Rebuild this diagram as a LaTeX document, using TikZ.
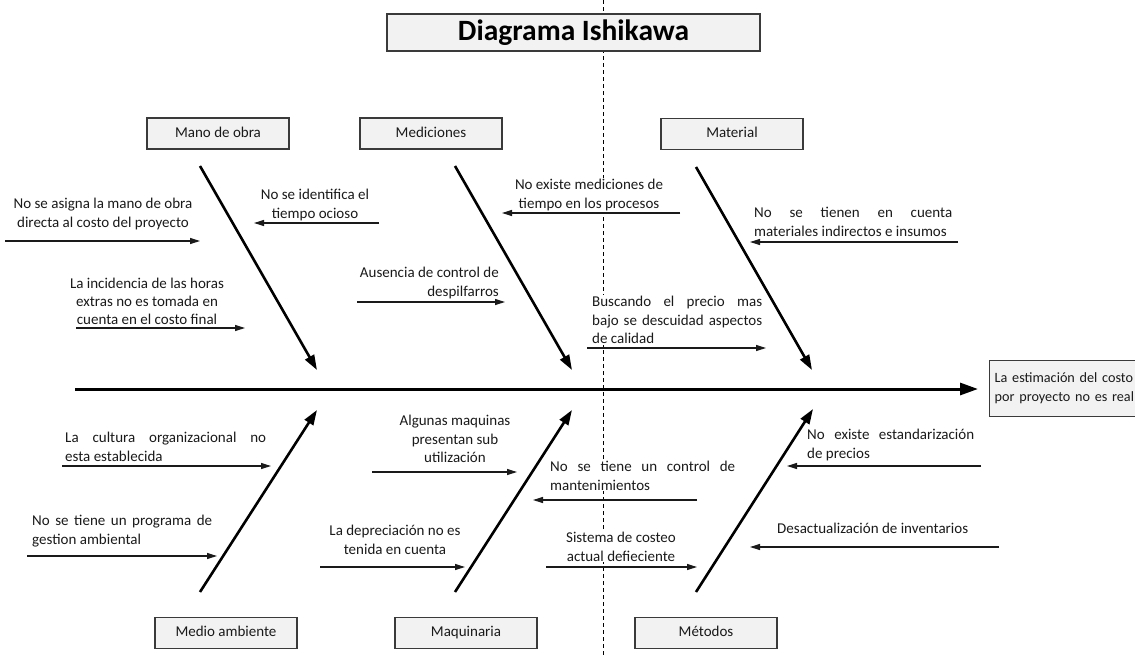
\documentclass[tikz,border=0pt]{standalone}
\usepackage{fontspec}
\setmainfont{Carlito}
\usetikzlibrary{arrows.meta}
\definecolor{boxfill}{HTML}{F2F2F2}
\definecolor{boxline}{HTML}{3A3A3A}
\definecolor{ink}{HTML}{1A1A1A}
\newcommand{\jbr}{\penalty-10000\relax}
\begin{document}
\begin{tikzpicture}[x=1pt,y=-1pt,
  catbox/.style={draw=boxline, fill=boxfill, line width=1.4pt, minimum width=142pt, minimum height=31pt, inner sep=0pt, text height=10.5pt, text depth=3pt, font=\fontsize{15}{18}\selectfont, text=ink},
  titlebox/.style={draw=boxline, fill=boxfill, line width=1.6pt, minimum width=373pt, minimum height=37pt, inner sep=0pt, text height=21pt, text depth=6pt, font=\fontsize{29.5}{33}\selectfont\bfseries, text=black},
  bone/.style={line width=2.6pt, draw=black, -{Triangle[length=15pt,width=10pt]}},
  spine/.style={line width=3pt, draw=black, -{Triangle[length=18pt,width=12pt]}},
  sub/.style={line width=1.2pt, draw=ink, -{Triangle[length=10pt,width=6pt]}},
  lbl/.style={font=\fontsize{15}{18.5}\selectfont, inner sep=1pt, fill=white, text=ink},
  jlbl/.style={lbl, align=justify, anchor=north west},
  clbl/.style={lbl, align=center, anchor=north},
  divider/.style={line width=1pt, draw=black, dash pattern=on 4pt off 3pt},
]
\useasboundingbox (0,0) rectangle (1135,656);

% dashed divider
\coordinate (dtop) at (603,0);
\coordinate (dbot) at (603,656);
\draw[divider] (dtop) -- (dbot);

% labels
\node[clbl] (l1) at (103,197) {No se asigna la mano de obra\\directa al costo del proyecto};
\node[clbl] (l2) at (315,188) {No se identifica el\\tiempo ocioso};
\node[clbl, font=\fontsize{15}{18}\selectfont] (l3) at (147,277) {La incidencia de las horas\\extras no es tomada en\\cuenta en el costo final};
\node[clbl] (l4) at (589,178) {No existe mediciones de\\tiempo en los procesos};
\node[lbl, align=right, anchor=north east] (l5) at (500,266) {Ausencia de control de\\despilfarros};
\node[jlbl, text width=198pt] (l6) at (753,206) {No se tienen en cuenta\jbr{} materiales indirectos e insumos};
\node[jlbl, text width=170pt] (l7) at (591,295) {Buscando el precio mas\jbr{} bajo se descuidad aspectos\jbr{} de calidad};
\node[jlbl, text width=201pt] (l8) at (64,431) {La cultura organizacional no\jbr{} esta establecida};
\node[jlbl, text width=180pt] (l9) at (31,514) {No se tiene un programa de\jbr{} gestion ambiental};
\node[clbl] (l10) at (455,414) {Algunas maquinas\\presentan sub\\utilización};
\node[clbl] (l11) at (395,524) {La depreciación no es\\tenida en cuenta};
\node[jlbl, text width=185pt] (l12) at (549,460) {No se tiene un control de\jbr{} mantenimientos};
\node[clbl] (l13) at (621,531) {Sistema de costeo\\actual defieciente};
\node[jlbl, text width=167pt] (l14) at (806,428) {No existe estandarización\jbr{} de precios};
\node[lbl, anchor=north west] (l15) at (776,522) {Desactualización de inventarios};

% boxes
\node[titlebox] (title) at (573.5,32.5) {Diagrama Ishikawa};
\node[catbox] (mano) at (218,133.5) {Mano de obra};
\node[catbox] (medi) at (431,133.5) {Mediciones};
\node[catbox] (mate) at (732,134) {Material};
\node[catbox] (medio) at (226,633) {Medio ambiente};
\node[catbox] (maqu) at (466,633) {Maquinaria};
\node[catbox] (meto) at (706,633) {Métodos};
\node[draw=boxline, fill=boxfill, line width=1.4pt, anchor=north west, minimum width=170pt, minimum height=56pt, inner sep=3pt, text width=160pt, align=left, font=\fontsize{14.2}{19}\selectfont, text=ink] (effect) at (989,360) {La estimación del costo\\por proyecto no es real};

% spine
\coordinate (s0) at (75,389);
\coordinate (s1) at (978,389);
\draw[spine] (s0) -- (s1);

% bones
\coordinate (b1a) at (200,166); \coordinate (b1b) at (317,370);
\coordinate (b2a) at (455,166); \coordinate (b2b) at (572,370);
\coordinate (b3a) at (696,167); \coordinate (b3b) at (812,370);
\coordinate (b4a) at (200,592); \coordinate (b4b) at (317,410);
\coordinate (b5a) at (455,592); \coordinate (b5b) at (572,410);
\coordinate (b6a) at (696,592); \coordinate (b6b) at (813,409);
\draw[bone] (b1a) -- (b1b);
\draw[bone] (b2a) -- (b2b);
\draw[bone] (b3a) -- (b3b);
\draw[bone] (b4a) -- (b4b);
\draw[bone] (b5a) -- (b5b);
\draw[bone] (b6a) -- (b6b);

% sub arrows
\coordinate (a1a) at (5,241);   \coordinate (a1b) at (200,241);
\coordinate (a2a) at (379,223); \coordinate (a2b) at (254,223);
\coordinate (a3a) at (76,328);  \coordinate (a3b) at (245,328);
\coordinate (a4a) at (680,213); \coordinate (a4b) at (502,213);
\coordinate (a5a) at (357,302); \coordinate (a5b) at (505,302);
\coordinate (a6a) at (958,242); \coordinate (a6b) at (750,242);
\coordinate (a7a) at (587,348); \coordinate (a7b) at (766,348);
\coordinate (a8a) at (62,466);  \coordinate (a8b) at (271,466);
\coordinate (a9a) at (27,556);  \coordinate (a9b) at (217,556);
\coordinate (a10a) at (372,472); \coordinate (a10b) at (517,472);
\coordinate (a11a) at (320,567); \coordinate (a11b) at (465,567);
\coordinate (a12a) at (697,500); \coordinate (a12b) at (533,500);
\coordinate (a13a) at (546,567); \coordinate (a13b) at (697,567);
\coordinate (a14a) at (981,466); \coordinate (a14b) at (787,466);
\coordinate (a15a) at (999,547); \coordinate (a15b) at (750,547);
\foreach \i in {1,...,15} {\draw[sub] (a\i a) -- (a\i b);}
\end{tikzpicture}
\end{document}
